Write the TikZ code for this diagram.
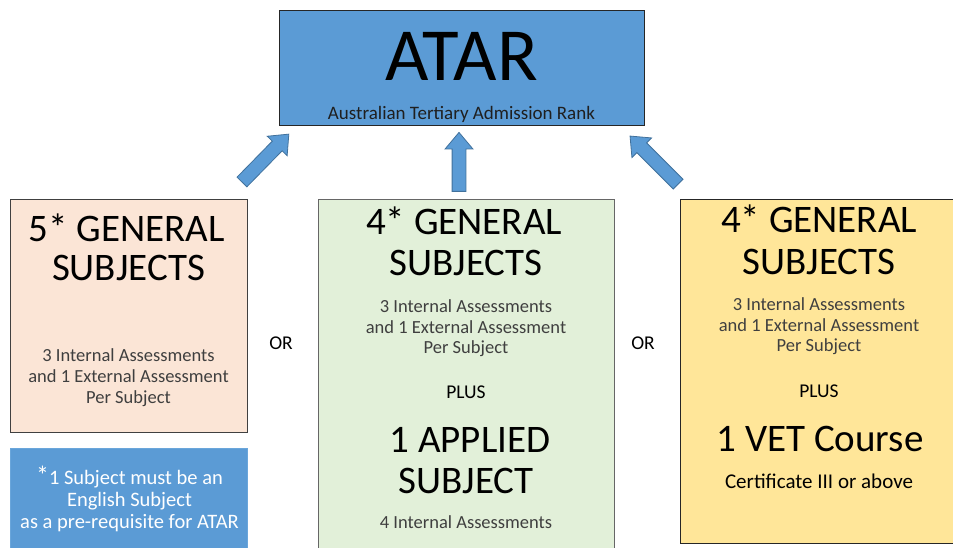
\documentclass[tikz,border=0pt]{standalone}
\usepackage{fontspec}
\setmainfont{Carlito}
\usetikzlibrary{shapes.arrows}
\definecolor{atarblue}{HTML}{5B9BD5}
\definecolor{arrowedge}{HTML}{41719C}
\definecolor{noteedge}{HTML}{6AA6DB}
\definecolor{peach}{HTML}{FBE5D6}
\definecolor{mint}{HTML}{E2F0D9}
\definecolor{sand}{HTML}{FFE699}
\definecolor{greytext}{HTML}{3F3F3F}
\definecolor{edgegrey}{HTML}{404040}
\begin{document}
\begin{tikzpicture}[x=1pt,y=-1pt,
  panel/.style={draw=edgegrey, line width=1pt, inner sep=0pt, outer sep=0pt, anchor=north west},
  txt/.style={anchor=base, inner sep=0pt, outer sep=0pt},
  huge/.style={txt, font=\fontsize{75}{88}\selectfont},
  head/.style={txt, font=\fontsize{39}{47}\selectfont},
  small/.style={txt, text=greytext, font=\fontsize{18.5}{22}\selectfont},
  mid/.style={txt, font=\fontsize{19.5}{23}\selectfont},
  notetxt/.style={txt, text=white, font=\fontsize{20.5}{24}\selectfont},
  blockarrow/.style={single arrow, fill=atarblue, draw=arrowedge, line width=0.8pt,
    inner xsep=0pt, inner ysep=6.5pt, outer sep=0pt, single arrow head extend=7pt,
    single arrow tip angle=80, single arrow head indent=0pt}]
\useasboundingbox (0,0) rectangle (953,547);
\clip (0,0) rectangle (953,547);

% ATAR box
\node[panel, fill=atarblue, draw=black!85, minimum width=365pt, minimum height=115pt] (atar) at (279,10) {};
\node[huge] (atart) at (461.5,80) {ATAR};
\node[txt, text=black!88, font=\fontsize{19}{23}\selectfont] (atars) at (461.5,119) {Australian Tertiary Admission Rank};

% left option
\node[panel, fill=peach, minimum width=237pt, minimum height=233pt] (left) at (10,199) {};
\node[head] (l1) at (126.5,241) {5* GENERAL};
\node[head] (l2) at (128.5,280) {SUBJECTS};
\node[small] (l3) at (128.5,361) {3 Internal Assessments};
\node[small] (l4) at (128.5,382) {and 1 External Assessment};
\node[small] (l5) at (128.5,403) {Per Subject};

% note
\node[panel, fill=atarblue, draw=noteedge, minimum width=237pt, minimum height=120pt] (note) at (10,448) {};
\node[notetxt] (n1) at (129.5,484) {{\fontsize{26}{26}\selectfont*}1 Subject must be an};
\node[notetxt] (n2) at (129.5,506) {English Subject};
\node[notetxt] (n3) at (129.5,528) {as a pre-requisite for ATAR};

% middle option
\node[panel, fill=mint, draw=edgegrey!80, minimum width=296pt, minimum height=370pt] (middle) at (318,199) {};
\node[head] (m1) at (464,234) {4* GENERAL};
\node[head] (m2) at (466,275) {SUBJECTS};
\node[small] (m3) at (466,312) {3 Internal Assessments};
\node[small] (m4) at (466,333) {and 1 External Assessment};
\node[small] (m5) at (466,353) {Per Subject};
\node[mid] (m6) at (466,398) {PLUS};
\node[head] (m7) at (470,452) {1 APPLIED};
\node[head] (m8) at (466,493) {SUBJECT};
\node[small] (m9) at (466,528) {4 Internal Assessments};

% right option
\node[panel, fill=sand, draw=black!85, minimum width=290pt, minimum height=344pt] (right) at (680,199) {};
\node[head] (r1) at (819,232) {4* GENERAL};
\node[head] (r2) at (819,274) {SUBJECTS};
\node[small] (r3) at (819,310) {3 Internal Assessments};
\node[small] (r4) at (819,331) {and 1 External Assessment};
\node[small] (r5) at (819,351) {Per Subject};
\node[mid] (r6) at (819,397) {PLUS};
\node[head] (r7) at (820,451) {1 VET Course};
\node[txt, font=\fontsize{21}{25}\selectfont] (r8) at (819,488) {Certificate III or above};

% OR labels
\node[mid] (or1) at (281,349) {OR};
\node[mid] (or2) at (643,349) {OR};

% block arrows
\node[blockarrow, rotate=45.6, minimum height=67pt] (a1) at (262.5,161) {};
\node[blockarrow, rotate=90, minimum height=59pt] (a2) at (459,166) {};
\node[blockarrow, rotate=135, minimum height=68pt] (a3) at (657,163) {};
\end{tikzpicture}
\end{document}
